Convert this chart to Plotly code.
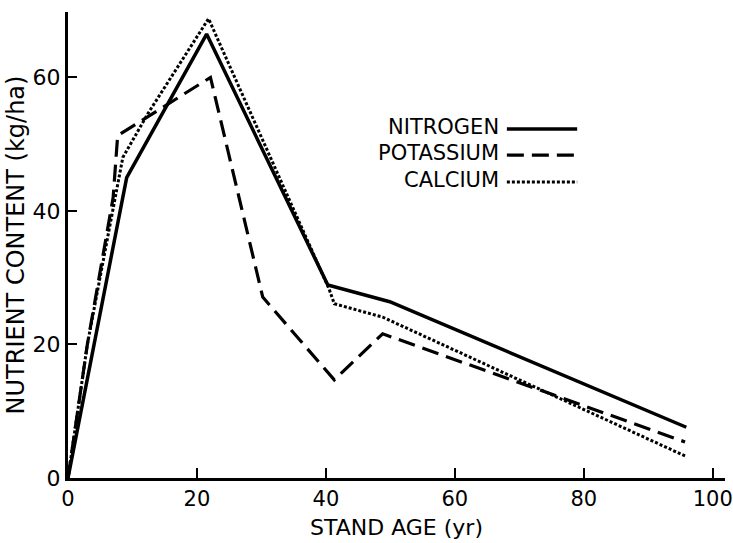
import plotly.graph_objects as go

# ---- data ----
age_nitrogen = [0, 9.1, 21.5, 40.3, 49.9, 95.9]
nitrogen = [0, 45.0, 66.5, 28.9, 26.4, 7.6]

age_potassium = [0, 1.0, 3.0, 7.0, 7.7, 22.1, 30.2, 41.3, 48.8, 95.7]
potassium = [0, 6.7, 20.0, 42.0, 51.3, 60.0, 27.1, 14.7, 21.6, 5.4]

age_calcium = [0, 3.0, 8.5, 12.4, 21.8, 40.5, 41.3, 48.8, 95.7]
calcium = [0, 20.0, 48.0, 54.6, 68.8, 28.3, 26.1, 24.1, 3.3]

series_names = ["NITROGEN", "POTASSIUM", "CALCIUM"]
x_ticks = [0, 20, 40, 60, 80, 100]
y_ticks = [0, 20, 40, 60]
x_title = "STAND AGE (yr)"
y_title = "NUTRIENT CONTENT (kg/ha)"

FONT = "DejaVu Sans"
dashes = ["solid", "17px,8px", "3px,2px"]
widths = [3.5, 3.2, 3.0]

fig = go.Figure()
for xs, ys, name, d, w in zip(
    [age_nitrogen, age_potassium, age_calcium],
    [nitrogen, potassium, calcium],
    series_names, dashes, widths,
):
    fig.add_trace(go.Scatter(x=xs, y=ys, mode="lines", name=name,
                             line=dict(color="black", width=w, dash=d),
                             showlegend=False))

# legend drawn as text (left) + sample line (right), like the original
leg_y = [0.753, 0.697, 0.639]
for name, d, w, yy in zip(series_names, dashes, widths, leg_y):
    fig.add_annotation(xref="paper", yref="paper", x=0.659, y=yy,
                       text=name, showarrow=False, xanchor="right",
                       yanchor="middle",
                       font=dict(family=FONT, size=21, color="black"))
    fig.add_shape(type="line", xref="paper", yref="paper",
                  x0=0.668, x1=0.775, y0=yy - 0.004, y1=yy - 0.004,
                  line=dict(color="black", width=w, dash=d))

fig.update_layout(
    width=733, height=543,
    margin=dict(l=68, r=8, t=12, b=65, autoexpand=False),
    paper_bgcolor="white", plot_bgcolor="white",
    font=dict(family=FONT, color="black"),
)
fig.update_xaxes(
    range=[0, 101.9], tickvals=x_ticks, ticktext=[str(v) for v in x_ticks],
    ticks="inside", ticklen=10, tickwidth=2, tickcolor="black",
    showline=True, linecolor="black", linewidth=3,
    showgrid=False, zeroline=False, automargin=False,
    ticklabeloverflow="allow",
    tickfont=dict(family=FONT, size=21, color="black"),
    title=dict(text=x_title, font=dict(family=FONT, size=22, color="black"),
               standoff=10),
)
fig.update_yaxes(
    range=[0, 69.8], tickvals=y_ticks, ticktext=[str(v) for v in y_ticks],
    ticks="inside", ticklen=9, tickwidth=2, tickcolor="black",
    showline=True, linecolor="black", linewidth=3,
    showgrid=False, zeroline=False, automargin=False,
    tickfont=dict(family=FONT, size=22, color="black"),
    title=dict(text=y_title, font=dict(family=FONT, size=24, color="black"),
               standoff=2),
)

fig.write_html("out.html")
